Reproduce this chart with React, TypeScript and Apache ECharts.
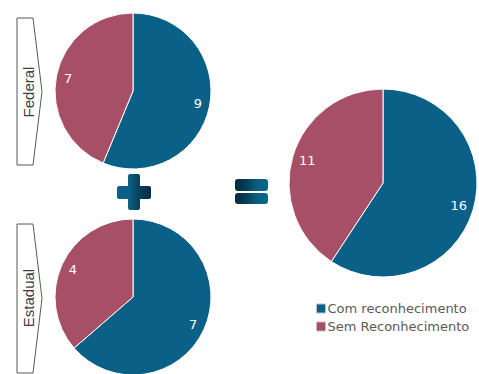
import React, { useEffect, useRef } from "react";
import * as echarts from "echarts";

const categories = ["Com reconhecimento", "Sem Reconhecimento"];
const federal = [9, 7];
const estadual = [7, 4];
const total = [16, 11];
const panelLabels = ["Federal", "Estadual"];

const TEAL = "#0a6087";
const ROSE = "#a64f67";
const LABEL_FONT = "DejaVu Sans";

function makePie(id: string, values: number[], center: [number, number], r: number): any[] {
  const data = values.map((v, i) => ({ name: categories[i], value: v }));
  return [
    {
      id: id,
      type: "pie",
      center,
      radius: [0, r],
      startAngle: 90,
      clockwise: true,
      label: { show: false },
      labelLine: { show: false },
      itemStyle: { borderColor: "#ffffff", borderWidth: 1 },
      emphasis: { disabled: true },
      data,
    },
    {
      id: id + "-labels",
      type: "pie",
      center,
      radius: [r * 0.62, r],
      startAngle: 90,
      clockwise: true,
      silent: true,
      legendHoverLink: false,
      itemStyle: { color: "rgba(0,0,0,0)", borderWidth: 0 },
      label: {
        show: true,
        position: "inside",
        color: "#ffffff",
        fontFamily: LABEL_FONT,
        fontSize: 13,
        formatter: "{c}",
      },
      labelLine: { show: false },
      emphasis: { disabled: true },
      data,
    },
  ];
}

export default function App() {
  const ref = useRef<HTMLDivElement>(null);
  useEffect(() => {
    if (!ref.current) return;
    const chart = echarts.init(ref.current, undefined, { renderer: "svg" });
    const plusGrad = new echarts.graphic.LinearGradient(
      117, 0, 151, 0,
      [
        { offset: 0, color: "#0b6287" },
        { offset: 0.38, color: "#0b5f84" },
        { offset: 0.55, color: "#084968" },
        { offset: 0.75, color: "#053a54" },
        { offset: 1, color: "#042d42" },
      ],
      true
    );
    const eqGrad = new echarts.graphic.LinearGradient(
      235, 0, 268, 0,
      [
        { offset: 0, color: "#042a3d" },
        { offset: 0.3, color: "#063b55" },
        { offset: 0.55, color: "#0a5274" },
        { offset: 0.75, color: "#0b6287" },
        { offset: 1, color: "#0b6489" },
      ],
      true
    );
    const arrow = (y0: number, y1: number) => ({
      type: "polygon",
      shape: {
        points: [
          [17, y0],
          [33, y0],
          [42, (y0 + y1) / 2],
          [33, y1],
          [17, y1],
        ],
      },
      style: { fill: "#ffffff", stroke: "#595959", lineWidth: 1 },
    });
    const sideText = (text: string, cy: number) => ({
      type: "text",
      x: 28,
      y: cy,
      rotation: Math.PI / 2,
      style: {
        text,
        fill: "#404040",
        font: "15px 'Liberation Sans', Arial, sans-serif",
        align: "center",
        verticalAlign: "middle",
      },
    });
    chart.setOption({
      animation: false,
      backgroundColor: "#ffffff",
      color: [TEAL, ROSE],
      legend: {
        orient: "vertical",
        left: 311,
        top: 297,
        itemWidth: 9,
        itemHeight: 9,
        itemGap: 5,
        icon: "rect",
        data: categories,
        selectedMode: false,
        itemStyle: { borderColor: "#c0c0c0", borderWidth: 1 },
        textStyle: {
          color: "#595959",
          fontFamily: LABEL_FONT,
          fontSize: 13,
          padding: [0, 0, 0, -3],
        },
      },
      series: [
        ...makePie("federal", federal, [133, 91], 78),
        ...makePie("estadual", estadual, [133, 297], 78),
        ...makePie("total", total, [383, 183], 94),
      ],
      graphic: [
        arrow(18, 165),
        arrow(224, 373),
        sideText(panelLabels[0], 92),
        sideText(panelLabels[1], 298),
        { type: "rect", shape: { x: 128, y: 174, width: 12, height: 36, r: 2 }, style: { fill: plusGrad } },
        { type: "rect", shape: { x: 117, y: 186, width: 34, height: 13, r: 2 }, style: { fill: plusGrad } },
        { type: "rect", shape: { x: 235, y: 179, width: 33, height: 12, r: 3 }, style: { fill: eqGrad } },
        { type: "rect", shape: { x: 235, y: 193, width: 33, height: 11, r: 3 }, style: { fill: eqGrad } },
      ],
    });
    return () => chart.dispose();
  }, []);
  return (
    <div
      ref={ref}
      style={{ position: "fixed", left: 0, top: 0, width: 479, height: 374 }}
    />
  );
}
